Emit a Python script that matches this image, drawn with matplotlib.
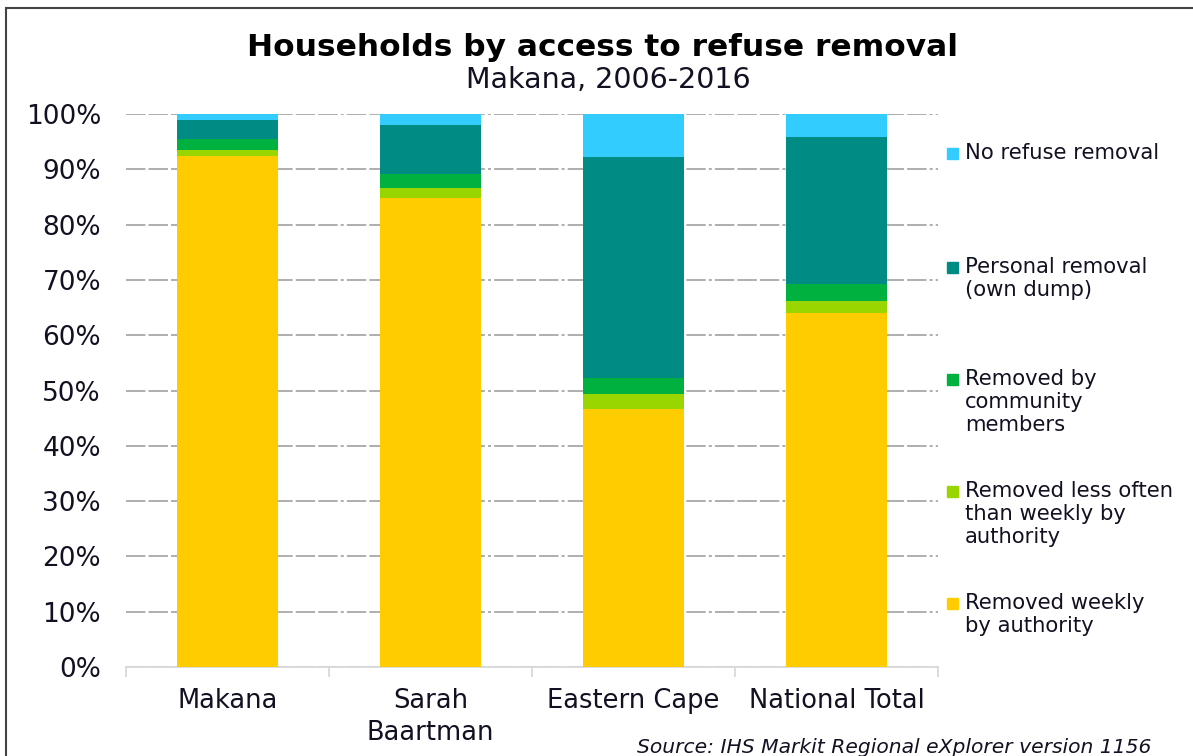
import matplotlib.pyplot as plt
from matplotlib.patches import Rectangle
import numpy as np

plt.rcParams['font.family'] = ['DejaVu Sans']
plt.rcParams['lines.scale_dashes'] = False

regions = ["Makana", "Sarah\nBaartman", "Eastern Cape", "National Total"]

# shares of households (%), bottom to top of each stack
weekly = [92.4, 84.9, 46.7, 64.1]
less_often = [1.1, 1.8, 2.6, 2.1]
community = [1.9, 2.5, 2.9, 3.0]
own_dump = [3.6, 8.9, 40.1, 26.7]
no_removal = [1.0, 1.9, 7.7, 4.1]

series_labels = [
    "Removed weekly\nby authority",
    "Removed less often\nthan weekly by\nauthority",
    "Removed by\ncommunity\nmembers",
    "Personal removal\n(own dump)",
    "No refuse removal",
]
colors = ["#FFCC00", "#99D600", "#00B140", "#008C84", "#33CCFF"]

text_col = "#111122"

fig = plt.figure(figsize=(11.93, 7.56), dpi=100)
ax = fig.add_axes([126 / 1193, 1 - 667 / 756, (938 - 126) / 1193, (667 - 114) / 756])

x = np.arange(len(regions))
bottom = np.zeros(len(regions))
for vals, col in zip([weekly, less_often, community, own_dump, no_removal], colors):
    ax.bar(x, vals, width=0.5, bottom=bottom, color=col, zorder=3)
    bottom += np.array(vals)

ax.set_xlim(-0.5, 3.5)
ax.set_ylim(0, 100)
ax.set_yticks(range(0, 101, 10))
ax.set_yticklabels([f"{v}%" for v in range(0, 101, 10)])
ax.yaxis.grid(True, color="#999999", linewidth=1.1, dashes=(14, 2.2, 14, 2.2, 14, 2.2, 2.2, 2.2), zorder=0)
ax.set_axisbelow(True)

ax.set_xticks(x)
ax.set_xticklabels(regions, linespacing=1.3)
ax.set_xticks(np.arange(-0.5, 4, 1), minor=True)
ax.tick_params(axis="x", which="major", length=0, pad=15, labelsize=18.5, labelcolor=text_col)
ax.tick_params(axis="x", which="minor", length=7, width=1.3, color="#d9d9d9")
ax.tick_params(axis="y", length=0, pad=18, labelsize=19, labelcolor=text_col)

for side in ["top", "right", "left"]:
    ax.spines[side].set_visible(False)
ax.spines["bottom"].set_color("#d9d9d9")
ax.spines["bottom"].set_linewidth(1.3)

fig.text(603 / 1193, 1 - 47 / 756, "Households by access to refuse removal",
         ha="center", va="center", fontsize=22.5, fontweight="bold", color="black")
fig.text(608 / 1193, 1 - 80 / 756, "Makana, 2006-2016",
         ha="center", va="center", fontsize=20.5, color=text_col)

# legend on the right, top entry first
legend_y = [153, 267, 379, 491, 603]
for y_px, lab, col in zip(legend_y, series_labels[::-1], colors[::-1]):
    fig.patches.append(Rectangle((947 / 1193, 1 - (y_px + 6) / 756), 11 / 1193, 11 / 756,
                                 transform=fig.transFigure, color=col))
    fig.text(965 / 1193, 1 - (y_px - 10) / 756, lab, ha="left", va="top",
             fontsize=15.2, linespacing=1.2, color=text_col)

fig.text(637 / 1193, 1 - 738 / 756, "Source: IHS Markit Regional eXplorer version 1156",
         ha="left", va="top", fontsize=14.6, style="italic", color=text_col)

# outer frame
fig.patches.append(Rectangle((6 / 1193, -0.05), 1.2, 1 - 8 / 756 + 0.05, transform=fig.transFigure,
                             fill=False, edgecolor="#444444", linewidth=1.5))

fig.savefig("out.png", dpi=100)
